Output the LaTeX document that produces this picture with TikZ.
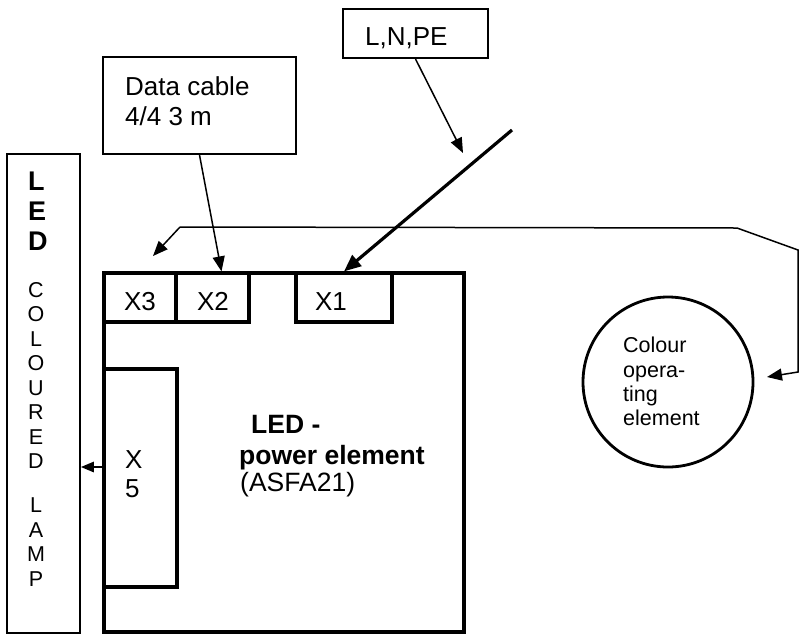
\documentclass[tikz,border=0pt]{standalone}
\usepackage{fontspec}
\setmainfont{Liberation Sans}
\usetikzlibrary{arrows.meta,calc,fit}
\begin{document}
\begin{tikzpicture}[x=1pt,y=-1pt,
  lbox/.style={draw,line width=2pt,inner sep=0pt,rectangle},
  thinbox/.style={draw,line width=1.5pt,inner sep=0pt,rectangle},
  thickbox/.style={draw,line width=3.2pt,inner sep=0pt,rectangle},
  txt/.style={inner sep=0pt,anchor=base west},
  ctxt/.style={inner sep=0pt,anchor=base},
  fbig/.style={font=\fontsize{26}{30}\selectfont},
  fx/.style={font=\fontsize{26}{30}\selectfont},
  fbold/.style={font=\fontsize{26.5}{30}\selectfont\bfseries},
  fmid/.style={font=\fontsize{26.5}{30}\selectfont},
  fsmall/.style={font=\fontsize{21.5}{24}\selectfont},
  flamp/.style={font=\fontsize{21.5}{24}\selectfont},
  flampb/.style={font=\fontsize{27}{30}\selectfont\bfseries},
  thinarrow/.style={line width=1.5pt,-{Triangle[length=15pt,width=12pt]}},
  thickarrow/.style={line width=3.2pt,-{Triangle[length=17pt,width=14pt]}},
  smallarrow/.style={line width=2.5pt,-{Triangle[length=13pt,width=10pt]}}
]
\useasboundingbox (0,0) rectangle (799,635);

% label boxes
\node[lbox, fit={(343,9)(488,58)}] (lnpe) {};
\node[txt,fbig] (lnpet) at (365,45) {L,N,PE};
\node[lbox, fit={(103,57)(296,154)}] (data) {};
\node[txt,fbig] (datat1) at (125,95) {Data cable};
\node[txt,fbig] (datat2) at (125,125) {4/4 3 m};

% lamp column
\node[thinbox, fit={(7,154)(80,633)}] (lamp) {};
\foreach \t/\y [count=\i] in {L/190,E/220,D/250}
  \node[txt,flampb] (ledb\i) at (28,\y) {\t};
\foreach \t/\y [count=\i] in {C/297,O/321.5,L/346,O/370.5,U/395,R/419.5,E/444,D/468.5,L/512,A/537,M/561.5,P/586}
  \node[ctxt,flamp] (lampl\i) at (36,\y) {\t};

% power element
\node[thickbox, fit={(104,273)(464,632)}] (main) {};
\node[thickbox, fit={(104,273)(176,322)}] (X3) {};
\node[thickbox, fit={(176,273)(249,322)}] (X2) {};
\node[thickbox, fit={(296,273)(392,322)}] (X1) {};
\node[thickbox, fit={(104,369)(177,587)}] (X5) {};
\node[ctxt,fx] (X3t) at (140,310) {X3};
\node[ctxt,fx] (X2t) at (213,310) {X2};
\node[ctxt,fx] (X1t) at (331,310) {X1};
\node[txt,fx] (X5t1) at (125,468) {X};
\node[txt,fx] (X5t2) at (125,497) {5};
\node[txt,fbold] (pe1) at (251,433) {LED -};
\node[txt,fbold] (pe2) at (239,464) {power element};
\node[txt,fmid] (pe3) at (240,491) {(ASFA21)};

% colour operating element
\node[draw,circle,line width=2.8pt,minimum size=170pt,inner sep=0pt] (col) at (668,382) {};
\node[txt,fsmall] (colt1) at (623,352) {Colour};
\node[txt,fsmall] (colt2) at (623,377) {opera-};
\node[txt,fsmall] (colt3) at (623,401) {ting};
\node[txt,fsmall] (colt4) at (623,425) {element};

% connectors
\coordinate (lnpetip) at (463,153);
\coordinate (mainsrc) at (512,130);
\coordinate (r0) at (180,227);
\coordinate (r1) at (737,228);
\coordinate (r2) at (798,250);
\coordinate (r3) at (798,372);
\coordinate (x3tip) at (153,256);
\coordinate (coltip) at (767,377);
\coordinate (x5o) at (104,467);

\draw[thinarrow] (lnpe.south) -- (lnpetip);
\draw[thickarrow] (mainsrc) -- (X1.north);
\draw[thinarrow] (data.south) -- ([xshift=9pt]X2.north);
\draw[thinarrow] (r0) -- (x3tip);
\draw[thinarrow] (r0) -- (r1) -- (r2) -- (r3) -- (coltip);
\draw[smallarrow] (x5o) -- (x5o -| lamp.east);
\end{tikzpicture}
\end{document}
